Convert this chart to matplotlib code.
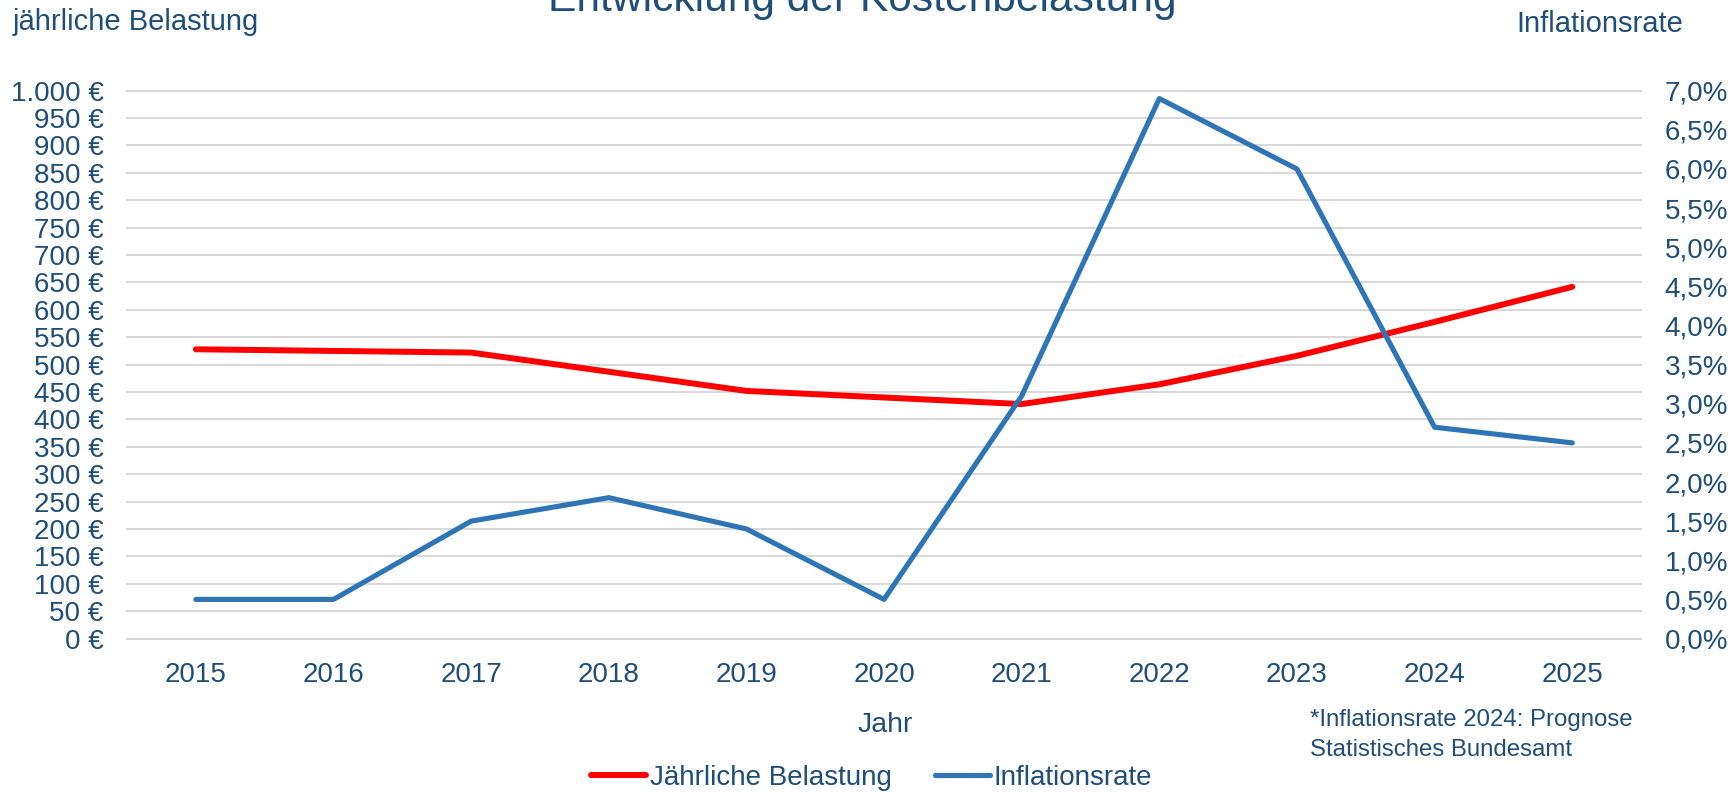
import matplotlib.pyplot as plt
from matplotlib.ticker import FuncFormatter, MultipleLocator

plt.rcParams['font.family'] = ['Liberation Sans', 'DejaVu Sans']

# Daten
jahre = ['2015', '2016', '2017', '2018', '2019', '2020', '2021', '2022', '2023', '2024', '2025']
belastung = [528, 525, 522, 487, 452, 440, 428, 464, 516, 578, 642]
inflation = [0.5, 0.5, 1.5, 1.8, 1.4, 0.5, 3.1, 6.9, 6.0, 2.7, 2.5]

textfarbe = '#1F4E79'
rot = '#FF0000'
blau = '#2E75B6'

fig = plt.figure(figsize=(17.36, 7.93), dpi=100)
ax = fig.add_axes([0.0732, 0.1948, 0.8721, 0.6908])
ax2 = ax.twinx()

x = list(range(len(jahre)))
l1, = ax.plot(x, belastung, color=rot, linewidth=4.3, solid_capstyle='round',
              solid_joinstyle='round', label='Jährliche Belastung')
l2, = ax2.plot(x, [v / 100 for v in inflation], color=blau, linewidth=3.7,
               solid_capstyle='round', label='Inflationsrate')

ax.set_xlim(-0.5, len(jahre) - 0.5)
ax.set_ylim(0, 1000)
ax2.set_ylim(0, 0.07)
ax.yaxis.set_major_locator(MultipleLocator(50))
ax2.yaxis.set_major_locator(MultipleLocator(0.005))
ax.yaxis.set_major_formatter(FuncFormatter(lambda v, p: f"{v:,.0f} €".replace(",", ".")))
ax2.yaxis.set_major_formatter(FuncFormatter(lambda v, p: f"{v*100:.1f}%".replace(".", ",")))
ax.set_xticks(x)
ax.set_xticklabels(jahre)

ax.grid(axis='y', color='#D9D9D9', linewidth=1.5)
ax.set_axisbelow(True)
for gl in ax.get_ygridlines():
    gl.set_clip_on(False)
for a in (ax, ax2):
    for s in a.spines.values():
        s.set_visible(False)
    a.tick_params(length=0, labelsize=20, labelcolor=textfarbe)
ax.tick_params(axis='y', pad=17)
ax.tick_params(axis='x', pad=17)
ax2.tick_params(axis='y', pad=17)

fig.text(0.4965, 1 - 11 / 793, 'Entwicklung der Kostenbelastung', ha='center', va='baseline',
         fontsize=30.6, color=textfarbe)
fig.text(13 / 1736, 1 - 22 / 793, 'jährliche Belastung', ha='left', va='center',
         fontsize=21, color=textfarbe)
fig.text(1683 / 1736, 1 - 24 / 793, 'Inflationsrate', ha='right', va='center',
         fontsize=21, color=textfarbe)
fig.text(0.51, 1 - 725 / 793, 'Jahr', ha='center', va='center', fontsize=20.5, color=textfarbe)
fig.text(1310 / 1736, 1 - 720 / 793, '*Inflationsrate 2024: Prognose',
         ha='left', va='center', fontsize=17.3, color=textfarbe)
fig.text(1310 / 1736, 1 - 750 / 793, 'Statistisches Bundesamt',
         ha='left', va='center', fontsize=17.3, color=textfarbe)

leg = fig.legend(handles=[l1, l2], loc='center', bbox_to_anchor=(0.502, 1 - 778 / 793),
                 ncol=2, frameon=False, fontsize=20, handlelength=2.0, handletextpad=0.12,
                 columnspacing=1.55, borderaxespad=0, borderpad=0)
for t in leg.get_texts():
    t.set_color(textfarbe)

fig.savefig('out.png', dpi=100)
